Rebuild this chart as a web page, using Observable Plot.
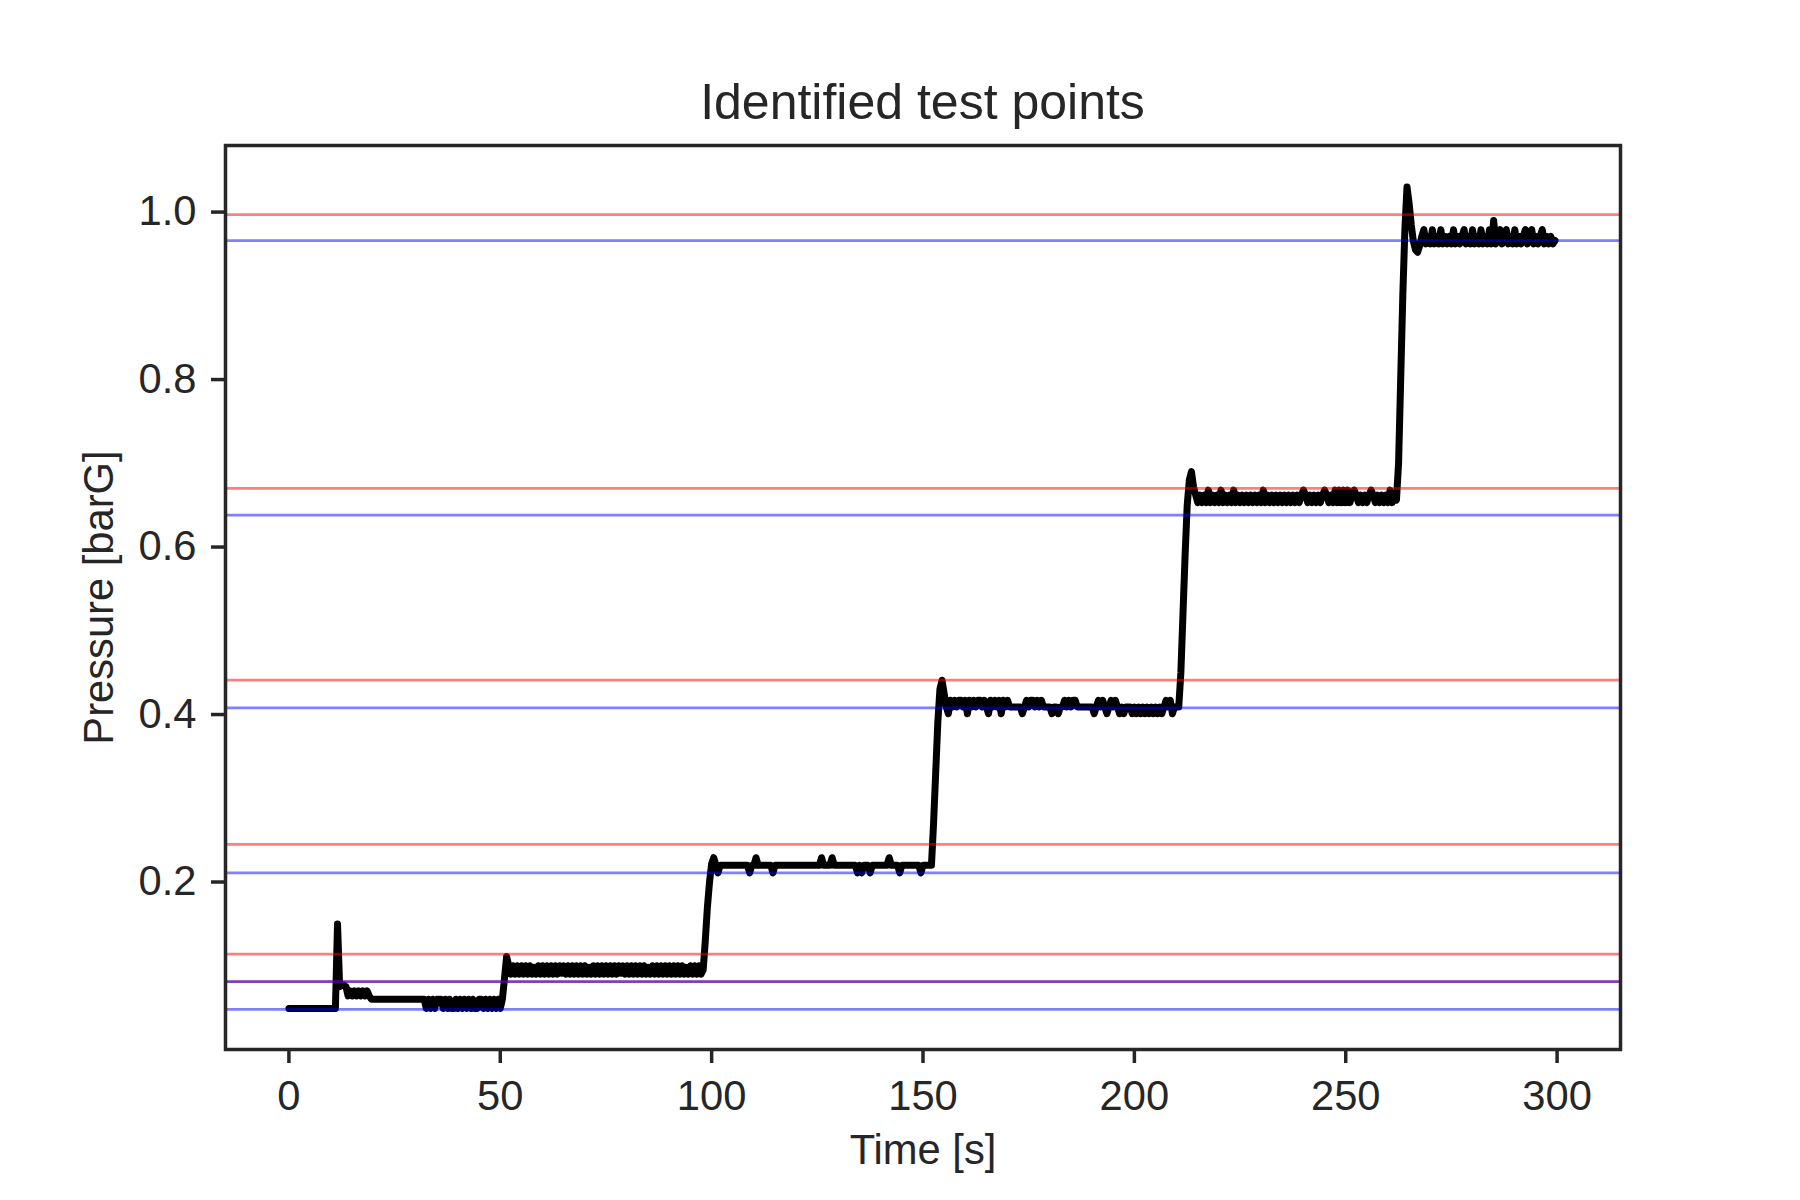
<!DOCTYPE html>
<html><head><meta charset="utf-8">
<script src="https://cdn.jsdelivr.net/npm/d3@7"></script>
<script src="https://cdn.jsdelivr.net/npm/@observablehq/plot@0.6"></script>
<style>
html,body{margin:0;padding:0;background:#fff;}
#title{width:1800px;height:130px;box-sizing:border-box;padding-top:77px;padding-left:45px;text-align:center;font-family:'Liberation Sans',Arial,sans-serif;font-size:50px;line-height:50px;color:#262626;white-space:nowrap;}
#chart svg{display:block;}
</style></head><body>
<div id="title">Identified test points</div>
<div id="chart"></div>
<script>
// ---- Data ----
const xTicks = [0, 50, 100, 150, 200, 250, 300];
const yTicks = [0.2, 0.4, 0.6, 0.8, 1.0];

// Test point bounds: upper (red) and lower (blue) limits
const upperBounds = [0.081, 0.114, 0.245, 0.441, 0.670, 0.997];
const lowerBounds = [0.048, 0.081, 0.211, 0.408, 0.638, 0.966];

const SAMPLE_STEP = 0.5; // s, sample clock of the gridded segments

// Plateau 1: [time s, pressure barG]
const plateau1 = [[0,0.049],[11,0.049],[11.5,0.150],[12,0.075],[12.5,0.077],[13,0.077],[13.5,0.075],[14,0.064],[14.5,0.070],[15,0.064],[15.5,0.070],[16,0.064],[16.5,0.070],[17,0.064],[17.5,0.070],[18,0.064],[18.5,0.070],[19,0.064],[19.5,0.060],[32,0.060],[32.5,0.049],[33,0.060],[33.5,0.049],[34,0.060],[34.5,0.049],[35,0.060],[36,0.060],[36.5,0.049],[37,0.060],[37.5,0.049],[38,0.060],[38.5,0.049],[39,0.049],[39.5,0.060],[40,0.049],[40.5,0.060],[41,0.049],[41.5,0.060],[42,0.049],[42.5,0.060],[43,0.049],[43.5,0.060],[44,0.049],[44.5,0.049],[45,0.060],[45.5,0.060],[46,0.049],[46.5,0.060],[47,0.049],[47.5,0.060],[48,0.049],[48.5,0.060],[49,0.049],[49.5,0.060],[50,0.049],[50.5,0.060],[51,0.085],[51.5,0.111]];

// Plateau 2: sampled every 0.5 s from 52.0 s
const plateau2Start = 52.0;
const plateau2 = [
0.100,0.090,0.100,0.090,0.100,0.090,0.100,0.090,0.100,0.090,
0.100,0.090,0.098,0.090,0.100,0.090,0.100,0.090,0.100,0.090,
0.100,0.090,0.100,0.090,0.100,0.091,0.100,0.090,0.100,0.090,
0.100,0.090,0.100,0.090,0.100,0.090,0.100,0.090,0.098,0.090,
0.100,0.090,0.100,0.090,0.100,0.090,0.100,0.090,0.100,0.090,
0.100,0.090,0.100,0.091,0.100,0.090,0.100,0.090,0.100,0.090,
0.100,0.090,0.100,0.090,0.100,0.090,0.098,0.090,0.100,0.090,
0.100,0.090,0.100,0.090,0.100,0.090,0.100,0.090,0.100,0.090,
0.100,0.090,0.100,0.090,0.098,0.090,0.100,0.090,0.100,0.090,
0.100,0.090,0.095];

// Plateau 3: [time s, pressure barG]
const plateau3 = [[98.5,0.13],[99,0.17],[99.5,0.20],[100,0.222],[100.5,0.229],[101,0.220],[101.5,0.211],[102,0.220],[108.5,0.220],[109,0.211],[109.5,0.220],[110,0.220],[110.5,0.229],[111,0.220],[114,0.220],[114.5,0.211],[115,0.220],[125.5,0.220],[126,0.229],[126.5,0.220],[128,0.220],[128.5,0.229],[129,0.220],[134,0.220],[134.5,0.211],[135,0.220],[135.5,0.211],[136,0.220],[137,0.220],[137.5,0.211],[138,0.220],[141.5,0.220],[142,0.229],[142.5,0.220],[144,0.220],[144.5,0.211],[145,0.220],[149,0.220],[149.5,0.211],[150,0.220],[152,0.220],[152.5,0.27],[153,0.33],[153.5,0.39],[154,0.43],[154.5,0.441]];

// Plateau 4: [time s, pressure barG]
const plateau4 = [[155,0.425],[155.5,0.409],[156,0.401],[156.5,0.417],[157,0.409],[157.5,0.417],[158,0.409],[158.5,0.417],[159,0.417],[159.5,0.409],[160,0.417],[160.5,0.401],[161,0.417],[161.5,0.409],[162,0.417],[162.5,0.409],[163,0.417],[163.5,0.417],[164,0.409],[164.5,0.417],[165,0.409],[165.5,0.401],[166,0.417],[166.5,0.409],[167,0.417],[167.5,0.409],[168,0.417],[168.5,0.401],[169,0.417],[169.5,0.409],[170,0.417],[170.5,0.409],[173,0.409],[173.5,0.401],[174,0.409],[174.5,0.417],[175,0.409],[175.5,0.417],[176,0.417],[176.5,0.409],[177,0.417],[177.5,0.409],[178,0.417],[178.5,0.409],[180,0.409],[180.5,0.401],[181,0.409],[181.5,0.409],[182,0.401],[182.5,0.409],[183,0.409],[183.5,0.417],[184,0.409],[184.5,0.417],[185,0.409],[185.5,0.417],[186,0.417],[186.5,0.409],[190,0.409],[190.5,0.401],[191,0.409],[191.5,0.417],[192,0.409],[192.5,0.417],[193,0.409],[193.5,0.401],[194,0.409],[194.5,0.417],[195,0.409],[195.5,0.417],[196,0.409],[196.5,0.401],[197,0.409],[197.5,0.401],[198,0.409],[199,0.409],[199.5,0.401],[200,0.409],[200.5,0.401],[201,0.409],[201.5,0.401],[202,0.409],[202.5,0.401],[203,0.409],[203.5,0.401],[204,0.409],[204.5,0.401],[205,0.409],[205.5,0.401],[206,0.409],[206.5,0.401],[207,0.409],[207.5,0.417],[208,0.409],[208.5,0.417],[209,0.401],[209.5,0.409],[210.5,0.409],[211,0.45],[211.5,0.52],[212,0.59],[212.5,0.65],[213,0.68],[213.5,0.690],[214,0.672]];

// Plateau 5: sampled every 0.5 s from 214.5 s
const plateau5Start = 214.5;
const plateau5 = [
0.662,0.653,0.662,0.653,0.662,0.653,0.668,0.653,0.662,0.653,
0.662,0.653,0.668,0.653,0.662,0.653,0.662,0.653,0.668,0.653,
0.662,0.653,0.662,0.653,0.662,0.653,0.662,0.653,0.662,0.653,
0.662,0.653,0.668,0.653,0.662,0.653,0.662,0.653,0.662,0.653,
0.662,0.653,0.662,0.653,0.662,0.653,0.662,0.653,0.662,0.653,
0.662,0.668,0.662,0.653,0.662,0.653,0.662,0.653,0.662,0.653,
0.662,0.668,0.662,0.653,0.662,0.653,0.668,0.653,0.668,0.653,
0.668,0.653,0.668,0.653,0.662,0.668,0.662,0.653,0.662,0.653,
0.662,0.653,0.662,0.668,0.662,0.653,0.662,0.653,0.662,0.653,
0.662,0.653,0.668,0.653,0.662,0.656];

// Plateau 6: sampled every 0.5 s from 262.5 s
const plateau6Start = 262.5;
const plateau6 = [
0.70,0.80,0.90,0.98,1.030,1.010,0.985,0.965,0.955,0.952,
0.960,0.971,0.979,0.962,0.971,0.962,0.979,0.962,0.971,0.962,
0.979,0.962,0.971,0.962,0.971,0.962,0.979,0.962,0.971,0.962,
0.971,0.979,0.962,0.971,0.962,0.979,0.962,0.971,0.962,0.979,
0.962,0.971,0.962,0.979,0.962,0.990,0.962,0.971,0.979,0.962,
0.971,0.979,0.962,0.971,0.962,0.979,0.962,0.971,0.962,0.971,
0.979,0.962,0.971,0.979,0.962,0.971,0.962,0.971,0.979,0.962,
0.971,0.962,0.971,0.962,0.966];

// ---- Build table ----
const fromPairs = pairs => pairs.map(([t, p]) => ({t, p}));
const fromGrid = (start, values) => values.map((p, i) => ({t: start + i * SAMPLE_STEP, p}));
const series = [
  ...fromPairs(plateau1),
  ...fromGrid(plateau2Start, plateau2),
  ...fromPairs(plateau3),
  ...fromPairs(plateau4),
  ...fromGrid(plateau5Start, plateau5),
  ...fromGrid(plateau6Start, plateau6)
];

const INK = "#262626";
const FONT = 41.7;

const boundMarks = [];
upperBounds.forEach((u, i) => {
  boundMarks.push(Plot.ruleY([u], {stroke: "red", strokeOpacity: 0.5, strokeWidth: 2.8}));
  boundMarks.push(Plot.ruleY([lowerBounds[i]], {stroke: "blue", strokeOpacity: 0.5, strokeWidth: 2.8}));
});

const chart = Plot.plot({
  width: 1800,
  height: 1070,
  marginLeft: 225,
  marginRight: 180,
  marginTop: 15,
  marginBottom: 151,
  style: {fontFamily: "'Liberation Sans', Arial, sans-serif", fontSize: FONT + "px", color: INK, background: "white", overflow: "visible"},
  x: {domain: [-15, 315]},
  y: {domain: [0, 1.0795]},
  marks: [
    Plot.line(series, {x: "t", y: "p", stroke: "black", strokeWidth: 7, strokeLinejoin: "round", strokeLinecap: "round"}),
    ...boundMarks,
    Plot.axisX({ticks: xTicks, tickFormat: d3.format("d"), tickSize: 14, tickPadding: 17, label: null, fontSize: FONT, color: INK, strokeWidth: 3.5}),
    Plot.axisY({ticks: yTicks, tickFormat: d3.format(".1f"), tickSize: 14, tickPadding: 15, label: null, fontSize: FONT, color: INK, strokeWidth: 3.5}),
    Plot.text(["Time [s]"], {text: d => d, frameAnchor: "bottom", dy: 114, lineAnchor: "bottom", textAnchor: "middle", fontSize: FONT, fill: INK}),
    Plot.text(["Pressure [barG]"], {text: d => d, frameAnchor: "left", rotate: -90, dx: -113, lineAnchor: "bottom", textAnchor: "middle", fontSize: FONT, fill: INK}),
    Plot.frame({stroke: INK, strokeWidth: 3.5})
  ]
});
document.getElementById("chart").appendChild(chart);
</script></body></html>
